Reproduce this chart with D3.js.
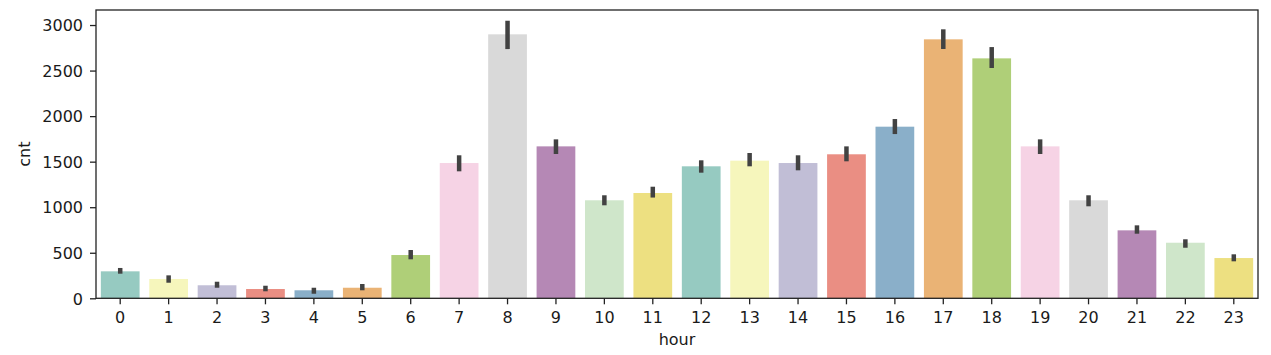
<!DOCTYPE html>
<html><head><meta charset="utf-8">
<script src="https://cdn.jsdelivr.net/npm/d3@7"></script>
<style>
html,body{margin:0;padding:0;background:#fff;}
text{font-family:"DejaVu Sans",sans-serif;}
</style></head>
<body><svg id="c" width="1271" height="355"></svg>
<script>
const hours = ["0","1","2","3","4","5","6","7","8","9","10","11","12","13","14","15","16","17","18","19","20","21","22","23"];
const cntMean = [296,212,143,102,88,116,475,1485,2898,1668,1076,1156,1449,1511,1485,1581,1884,2843,2634,1668,1076,746,610,442];
const ciLow  = [270,171,116,77,50,88,428,1394,2736,1584,1021,1106,1379,1449,1405,1504,1803,2737,2528,1584,1010,709,555,406];
const ciHigh = [333,252,182,138,116,157,530,1570,3047,1745,1131,1225,1515,1595,1570,1668,1968,2953,2758,1745,1131,801,648,483];
const yTicks = [0,500,1000,1500,2000,2500,3000];
const set3 = ["#8dd3c7","#ffffb3","#bebada","#fb8072","#80b1d3","#fdb462","#b3de69","#fccde5","#d9d9d9","#bc80bd","#ccebc5","#ffed6f"];
const yMax = 3165;

const svg = d3.select("#c");
const L=96, R=1258, T=10, B=298.3;
const x = d3.scaleBand().domain(hours).range([L,R]).paddingInner(0.2).paddingOuter(0.1);
const y = d3.scaleLinear().domain([0,yMax]).range([B,T]);
const color = i => { const h = d3.hsl(set3[i % set3.length]); h.s *= 0.75; return h.formatHex(); };

const data = hours.map((h,i)=>({h, v:cntMean[i], lo:ciLow[i], hi:ciHigh[i], i}));

svg.append("g").selectAll("rect").data(data).join("rect")
  .attr("x", d=>x(d.h)).attr("width", x.bandwidth())
  .attr("y", d=>y(d.v)).attr("height", d=>y(0)-y(d.v))
  .attr("fill", d=>color(d.i));

svg.append("g").selectAll("line").data(data).join("line")
  .attr("x1", d=>x(d.h)+x.bandwidth()/2).attr("x2", d=>x(d.h)+x.bandwidth()/2)
  .attr("y1", d=>y(d.lo)).attr("y2", d=>y(d.hi))
  .attr("stroke","#424242").attr("stroke-width",4.5);

const xAxis = svg.append("g").attr("transform",`translate(0,${B})`)
  .call(d3.axisBottom(x).tickSizeOuter(0).tickSize(6).tickPadding(7));
const yAxis = svg.append("g").attr("transform",`translate(${L},0)`)
  .call(d3.axisLeft(y).tickValues(yTicks).tickFormat(d3.format("d")).tickSizeOuter(0).tickSize(6).tickPadding(7));
[xAxis,yAxis].forEach(a=>{
  a.select(".domain").remove();
  a.selectAll(".tick line").attr("stroke","#222").attr("stroke-width",1.3);
  a.selectAll(".tick text").attr("fill","#1a1a1a").style("font-size","16px");
});
xAxis.selectAll(".tick text").attr("dy","0.74em");
yAxis.selectAll(".tick text").attr("dy","0.36em");

svg.append("rect").attr("x",L).attr("y",T).attr("width",R-L).attr("height",B-T)
  .attr("fill","none").attr("stroke","#222").attr("stroke-width",1.3);

svg.append("text").attr("x",(L+R)/2).attr("y",345).attr("text-anchor","middle")
  .attr("fill","#1a1a1a").style("font-size","16px").text("hour");
svg.append("text").attr("transform",`translate(30,${(T+B)/2}) rotate(-90)`).attr("text-anchor","middle")
  .attr("fill","#1a1a1a").style("font-size","16px").text("cnt");
</script></body></html>
